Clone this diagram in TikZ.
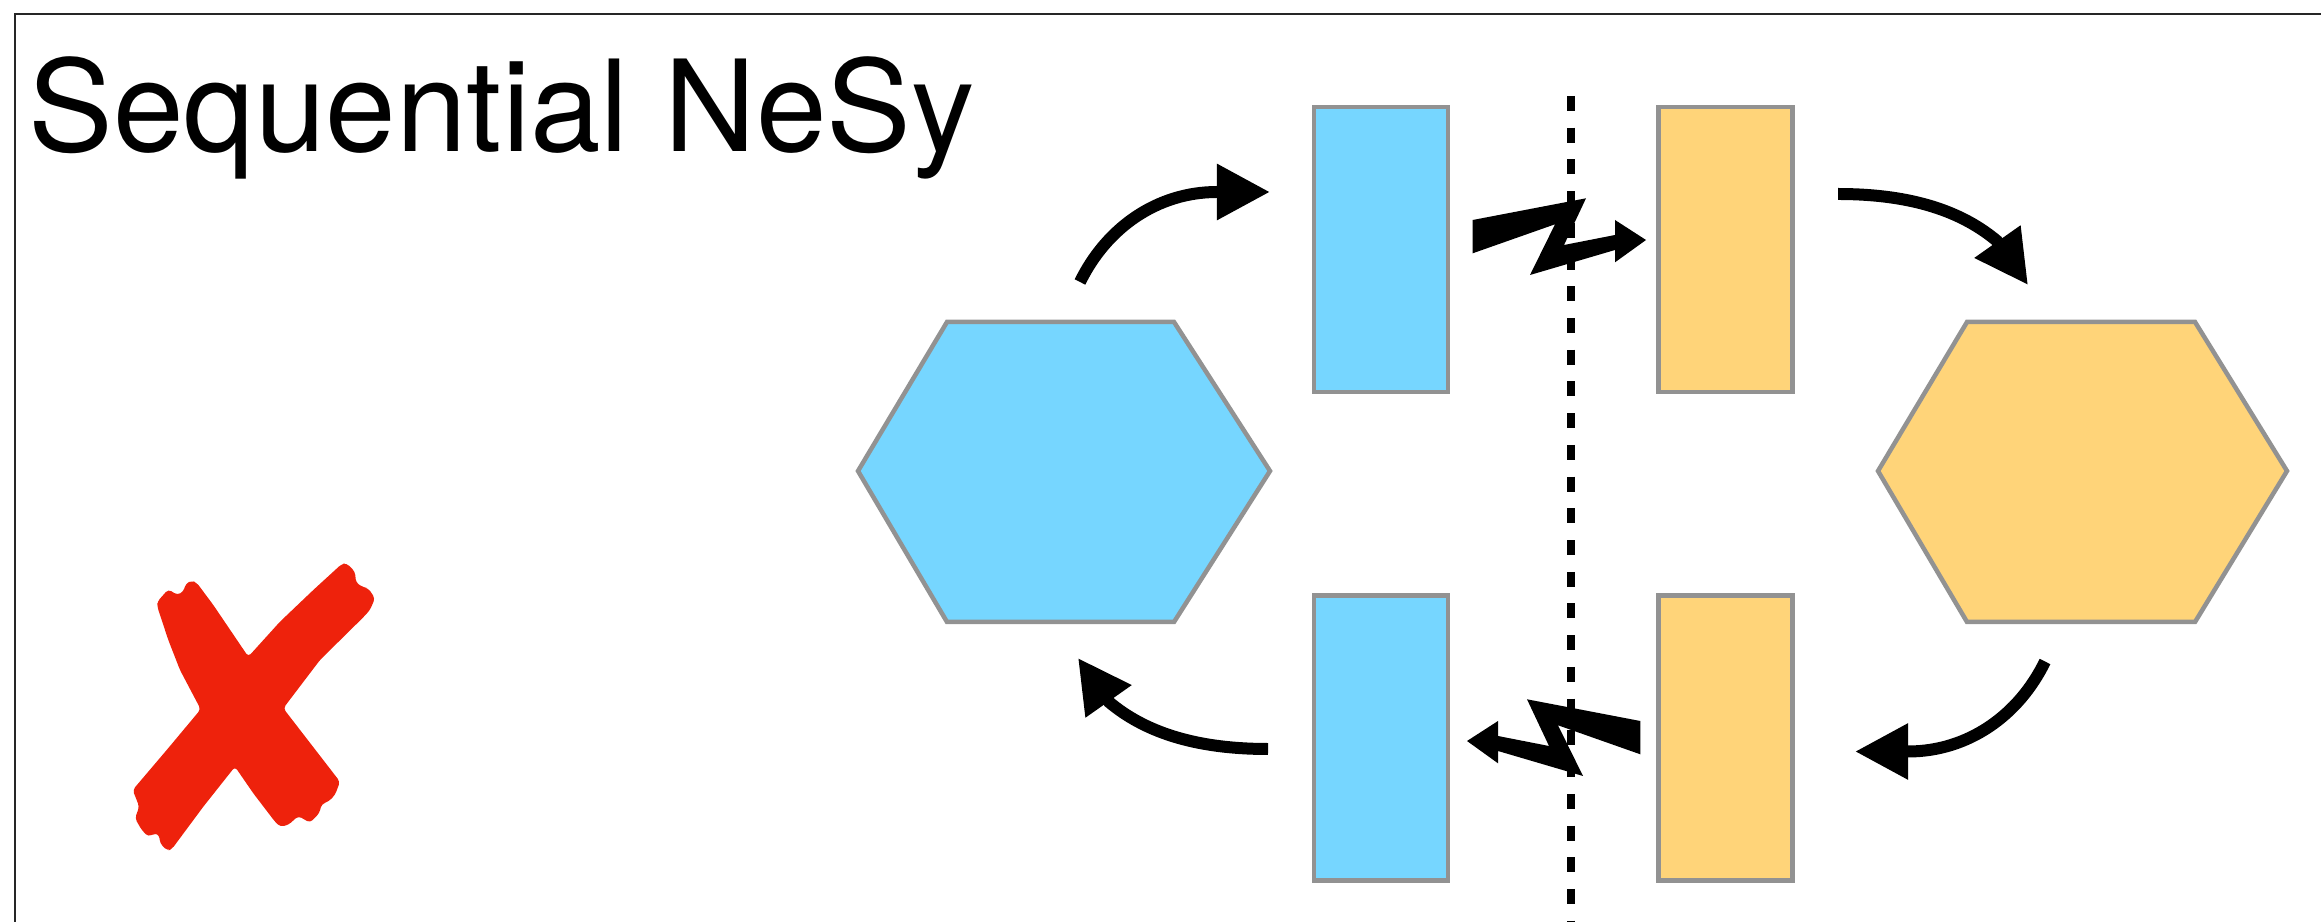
\documentclass[tikz,border=0pt]{standalone}
\usepackage{fontspec}
\setmainfont{TeX Gyre Heros}
\usetikzlibrary{arrows.meta}
\definecolor{skyblue}{HTML}{76D6FF}
\definecolor{cantaloupe}{HTML}{FFD479}
\definecolor{edgegray}{HTML}{929292}
\definecolor{markred}{HTML}{EE220C}
% zig-zag arrow crossing the cut, drawn around its middle point
\def\boltarrow[#1](#2){%
  \begin{scope}[shift={(#2)},#1]
    \fill (-83.8,-20) -- (29.5,-41.7) -- (7.5,5) -- (58.5,-5) -- (58.5,-20)
      -- (89.5,0) -- (58.5,22.3) -- (58.5,10) -- (-26.5,35) -- (-1.5,-15.7)
      -- (-83.8,13.3) -- cycle;
  \end{scope}}

\begin{document}
\begin{tikzpicture}[x=0.01cm, y=-0.01cm,
    frame/.style={line width=0.74pt, black!85},
    hexblue/.style={fill=skyblue, draw=edgegray, line width=1.28pt, line join=miter},
    hexyellow/.style={fill=cantaloupe, draw=edgegray, line width=1.28pt, line join=miter},
    blockblue/.style={rectangle, fill=skyblue, draw=edgegray, line width=1.28pt,
      inner sep=0pt, minimum width=1.34cm, minimum height=2.85cm},
    blockyellow/.style={blockblue, fill=cantaloupe},
    flowarrow/.style={line width=3.41pt, -{Triangle[length=15.1pt, width=15.1pt]}},
    cutline/.style={line width=2.19pt, dash pattern=on 0.15cm off 0.167cm}]
		%%%%% START %%%%%
		\useasboundingbox (0,0) rectangle (2321,922);
		\draw[frame] (15,922) -- (15,14) -- (2321,14);
		
		\node[anchor=base west, inner sep=0pt, font=\fontsize{36.1}{40}\selectfont] (title) at (28,152) {Sequential NeSy};
		
		% hexagons
		\draw[hexblue] (858,471) -- (947,322) -- (1174,322) -- (1270,471) -- (1174,622) -- (947,622) -- cycle;
		\draw[hexyellow] (1878,471) -- (1967,322) -- (2195,322) -- (2287,471) -- (2195,622) -- (1967,622) -- cycle;
		
		% blocks on both sides of the cut
		\node[blockblue] (blueup) at (1381,249.5) {};
		\node[blockyellow] (yellowup) at (1725.5,249.5) {};
		\node[blockblue] (bluedown) at (1381,738) {};
		\node[blockyellow] (yellowdown) at (1725.5,738) {};
		
		\boltarrow[](1556.5,240)
		\boltarrow[xscale=-1](1556.5,741)
		
		\draw[cutline] (1571,96) -- (1571,922);
		
		% curved arrows, shaft ends at the back of the head
		\coordinate (a1) at (1080,282);
		\coordinate (a2) at (1217,192);
		\coordinate (a3) at (1270,192);
		\draw[flowarrow] (a1) .. controls (1106.3,228) and (1157,192) .. (a2) -- (a3);
		\coordinate (b1) at (1838,194);
		\coordinate (b2) at (1997,241);
		\coordinate (b3) at (2028,285);
		\draw[flowarrow] (b1) .. controls (1913,194) and (1962.5,212) .. (b2) -- (b3);
		\coordinate (c1) at (2045,661.5);
		\coordinate (c2) at (1908,751.5);
		\coordinate (c3) at (1855,751.5);
		\draw[flowarrow] (c1) .. controls (2018.7,715.5) and (1968,751.5) .. (c2) -- (c3);
		\coordinate (d1) at (1268,749);
		\coordinate (d2) at (1109,702);
		\coordinate (d3) at (1078,658);
		\draw[flowarrow] (d1) .. controls (1193,749) and (1143.5,731) .. (d2) -- (d3);
		
		% red cross
		\fill[markred, rounded corners=1pt] (157.3,601.7) -- (168.3,589.3) -- (177.3,595) -- (183.3,591.7) -- (186,583.3)
			-- (191.7,580.7) -- (196.7,582.7) -- (213.3,605) -- (248.3,656.7) -- (280,621.7) -- (313.3,590)
			-- (341.7,564) -- (346.7,563.3) -- (355,571.7) -- (356,582.7) -- (363.3,587.3) -- (368.3,588.3)
			-- (375,598.3) -- (370,610) -- (363.3,617.3) -- (320,660) -- (283.3,708.3) -- (340,781.7)
			-- (335,795) -- (328.3,801.7) -- (321.7,804) -- (319.3,813.3) -- (310,822.7) -- (298.3,816)
			-- (288.3,825) -- (280,826.7) -- (275,821.7) -- (253.3,793.3) -- (235,766.7) -- (203.3,806.7)
			-- (171.7,849.3) -- (167.3,850.7) -- (160,843.3) -- (159.3,835) -- (155,833.3) -- (148.3,836.7)
			-- (141.7,830) -- (135,818.3) -- (139.3,806.7) -- (132.7,790) -- (166.7,750) -- (200.7,709.3)
			-- (180,670) -- (168.3,640) -- (157.3,606.7) -- cycle;
		%%%%% END %%%%%
\end{tikzpicture}
\end{document}
